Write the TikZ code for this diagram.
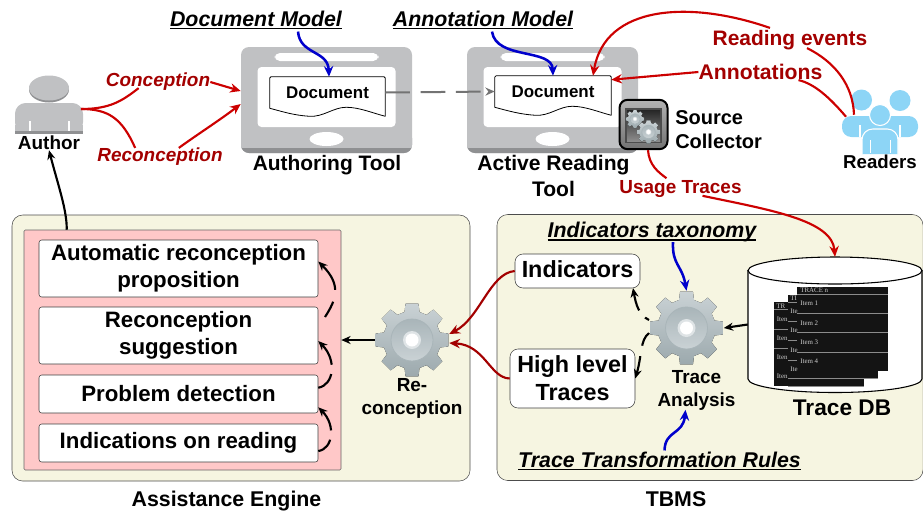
\documentclass[tikz,border=0pt]{standalone}
\usepackage{fontspec}
\setmainfont{Liberation Sans}
\newfontfamily\itemfont{Liberation Serif}
\usetikzlibrary{arrows.meta,calc}

\definecolor{tabletgray}{HTML}{C0C1C3}
\definecolor{tabletedge}{HTML}{8F9092}
\definecolor{panelgreen}{HTML}{F6F5E1}
\definecolor{panelpink}{HTML}{FFC8C8}
\definecolor{darkred}{HTML}{A30000}
\definecolor{linered}{HTML}{CC0000}
\definecolor{modelblue}{HTML}{0000CC}
\definecolor{readerblue}{HTML}{8DD5F6}
\definecolor{gearlight}{HTML}{CAD2D5}
\definecolor{geardark}{HTML}{9CA9AD}
\definecolor{gearring}{HTML}{A9B5B9}

\tikzset{
  lbl/.style={inner sep=0pt,align=center,font=\fontsize{#1}{20}\selectfont\bfseries},
  lblred/.style={lbl=#1,text=darkred},
  lblit/.style={lbl=#1,font=\fontsize{#1}{20}\selectfont\bfseries\itshape},
  lblredit/.style={lblit=#1,text=darkred},
  stepbox/.style={draw=black!75,fill=white,rounded corners=2,minimum width=209.25pt,align=center,inner sep=0pt,font=\fontsize{16.7}{20}\selectfont\bfseries},
  resultbox/.style={draw=black!75,fill=white,rounded corners=6,align=center,inner sep=0pt,font=\fontsize{17.5}{21}\selectfont\bfseries},
  gearspot/.style={circle,inner sep=0pt,minimum size=55.5pt},
  tablet/.style={fill=tabletgray,rounded corners=6,minimum width=128.25pt,minimum height=79.5pt,inner sep=0pt},
  redline/.style={draw=linered,line width=1.6pt},
  redarrow/.style={redline,-{Stealth[length=8pt,width=7pt]}},
  bluearrow/.style={draw=modelblue,line width=1.9pt,-{Stealth[length=8pt,width=7pt]}},
  blackarrow/.style={draw=black,line width=1.6pt,-{Stealth[length=7pt,width=6pt]}},
  itemtext/.style={text=black!20,inner sep=0pt,font=\fontsize{5.2}{5.2}\selectfont\itemfont},
}

% underlined label text
\newcommand{\ulabel}[1]{\setbox0=\hbox{#1}\rlap{\rule[-2.4pt]{\wd0}{1pt}}\box0}

% gear with eight teeth: centre, scale
\newcommand{\gearshape}[2]{
  \begin{scope}[shift={(#1)},scale=#2]
    \fill[top color=gearlight,bottom color=geardark]
      (-15:29) \foreach \a in {0,45,...,315}{ -- (\a-15:29) -- (\a-10:37) -- (\a+10:37) -- (\a+15:29)} -- cycle;
    \draw[gearring,line width=0.6pt,top color=gearring,bottom color=gearlight] (0,0) circle (21);
    \fill[gearlight!60!white] (0,0) circle (9);
    \fill[white] (0,0) circle (6.5);
  \end{scope}
}

% tablet inside: the node name
\newcommand{\tabletshape}[1]{
  \begin{scope}[shift={(#1)}]
    \fill[tabletedge,rounded corners=6] (-85.5,30) rectangle (85.5,53);
    \fill[tabletgray] (-85.5,30) rectangle (85.5,48);
    \fill[white,rounded corners=3] (-69,-33) rectangle (69,27);
    \fill[white,rounded corners=4] (-52,-47) rectangle (52,-39);
    \fill[white] (0,39) ellipse (17 and 7);
  \end{scope}
}

% outline with the wavy lower edge round a document node
\newcommand{\docshape}[1]{
  \draw[line width=0.6pt,rounded corners=1] (#1.south west) -- (#1.north west) -- (#1.north east) -- ($(#1.south east)+(0,8)$);
  \draw[line width=0.6pt] ($(#1.south east)+(0,8)$) .. controls +(-12,-3) and +(13,0) .. ++(-39,-9) .. controls +(-13,0) and +(14,1) .. ++(-37,9) .. controls +(-15,-1) and +(15,4) .. (#1.south west);
}

\begin{document}
\begin{tikzpicture}[x=0.75pt,y=0.75pt,yscale=-1,xscale=1]
\useasboundingbox (0,0) rectangle (923,512);

% Panels
\node[draw=black!70,fill=panelgreen,rounded corners=8,minimum width=343.5pt,minimum height=199.5pt,inner sep=0pt] (assist) at (241,348) {};
\node[draw=black!70,fill=panelgreen,rounded corners=8,minimum width=319.5pt,minimum height=199.5pt,inner sep=0pt] (tbms) at (710,347.5) {};
\node[draw=black!60,fill=panelpink,rounded corners=1,minimum width=237.75pt,minimum height=180pt,inner sep=0pt] (pink) at (182.5,350) {};

% Tablets
\node[tablet] (authoring) at (326.5,100) {};
\tabletshape{authoring}
\node[tablet] (reading) at (552.5,100) {};
\tabletshape{reading}

% Documents
\node[lbl=12.7,minimum width=86.25pt,minimum height=23.25pt] (docA) at (327.5,92.5) {Document};
\docshape{docA}
\node[lbl=12.7,minimum width=87pt,minimum height=23.25pt] (docB) at (553,91.5) {Document};
\docshape{docB}

% Author
\fill[tabletedge] (49,89.5) ellipse (20 and 13);
\fill[tabletgray] (49,88) ellipse (20 and 12.5);
\fill[tabletgray,rounded corners=8] (15,133) -- (15,103) -- (83,103) -- (83,133) -- cycle;
\fill[tabletgray] (15,125) rectangle (83,131);
\fill[white] (28.5,121) rectangle (30.5,132);
\fill[white] (67.5,121) rectangle (69.5,132);
\fill[tabletedge] (15,131) rectangle (83,133.5);
\coordinate (authorfoot) at (81,109);
\node[lbl=14.2] (author) at (49,143) {Author};

% Readers
\node[inner sep=0pt,minimum width=57pt,minimum height=42pt] (crowd) at (880,125) {};
\fill[readerblue] (861.5,100) circle (10.5);
\fill[readerblue] (900,100.5) circle (10.5);
\fill[readerblue,rounded corners=7] (842,137) -- (842,116) -- (918,116) -- (918,137) -- cycle;
\fill[white] (859,125) rectangle (861,137);
\fill[white] (899,125) rectangle (901,137);
\draw[white,line width=0.8pt,fill=readerblue] (880,115) circle (10.5);
\draw[white,line width=0.8pt,fill=readerblue,rounded corners=8] (862,154) -- (862,129) -- (898,129) -- (898,154);
\fill[white] (869.5,140) rectangle (870.5,153);
\fill[white] (889.5,140) rectangle (890.5,153);
\node[lbl=14] (readers) at (880,162) {Readers};

% Source collector
\node[draw=black,line width=1.5pt,rounded corners=6,top color=black!30,bottom color=black!55,minimum width=36pt,minimum height=37pt,inner sep=0pt] (collector) at (643.5,124.5) {};
\fill[black!70] (625,108) rectangle (662,143);
\fill[top color=black!85,bottom color=black!45] (627,110) rectangle (660,141);
\gearshape{635,119}{0.25}
\gearshape{648.5,132}{0.32}
\node[lbl=15,anchor=west,font=\fontsize{15}{18}\selectfont\bfseries,align=left] (source) at (675,130) {Source\\Collector};

% Trace DB
\node[inner sep=0pt,minimum width=130.5pt,minimum height=101.25pt] (tracedb) at (835,324.5) {};
\draw[line width=0.8pt,fill=white] (748,270) -- (748,379) .. controls (748,386.5) and (787,392.5) .. (835,392.5) .. controls (883,392.5) and (922,386.5) .. (922,379) -- (922,270);
\draw[line width=0.8pt,fill=white] (835,270.5) ellipse (87 and 13.5);
\fill[black!92] (774,302) rectangle (864,386);
\fill[black!92] (788,295) rectangle (878,378);
\fill[black!92] (797,287) rectangle (888,371);
\foreach \y in {294,313,332,352}
  \draw[black!45,line width=0.7pt] (797,\y) -- (888,\y);
\foreach \y in {302,321.5,340.5,360}
  \draw[black!45,line width=0.7pt] (788,\y) -- (797,\y);
\foreach \y in {309,329,348}
  \draw[black!45,line width=0.7pt] (774,\y) -- (788,\y);
\draw[black!45,line width=0.7pt] (788,378) -- (878,378);
\draw[black!45,line width=0.7pt] (788,386) -- (864,386);
\node[itemtext,anchor=west] (itn) at (800,290) {TRACE n};
\foreach \y/\t in {303/1,323/2,342/3,361/4}
  \node[itemtext,anchor=west] (it\t) at (800,\y) {Item \t};
\node[itemtext,anchor=west] (tb) at (790,298) {TI};
\foreach \y/\t in {311/a,330.5/b,350/c,369/d}
  \node[itemtext,anchor=west] (ib\t) at (790,\y) {Ite};
\node[itemtext,anchor=west] (ta) at (776,306) {TR};
\foreach \y/\t in {319/a,338/b,357/c,376.5/d}
  \node[itemtext,anchor=west] (ia\t) at (776.5,\y) {Iten};
\node[lbl=17] (dblabel) at (842,408) {Trace DB};

% Gears
\node[gearspot] (recon) at (412,340) {};
\gearshape{412,340}{1}
\node[lbl=14.2,font=\fontsize{14.2}{17.3}\selectfont\bfseries] (reconlabel) at (412,398.5) {Re-\\conception};
\node[gearspot] (analysis) at (686.5,328) {};
\gearshape{686.5,328}{1}
\node[lbl=14.2,font=\fontsize{14.2}{17.3}\selectfont\bfseries] (analysislabel) at (696.5,390.5) {Trace\\Analysis};

% Assistance steps
\node[stepbox,minimum height=42.75pt] (auto) at (178.5,268.5) {Automatic reconception\\proposition};
\node[stepbox,minimum height=42.75pt] (suggest) at (178.5,335.5) {Reconception\\suggestion};
\node[stepbox,minimum height=28.5pt] (problem) at (178.5,394) {\raisebox{1.5pt}{Problem detection}};
\node[stepbox,minimum height=28.5pt] (indic) at (178.5,443) {\raisebox{0.8pt}{Indications on reading}};

% Trace results
\node[resultbox,minimum width=93.75pt,minimum height=25.5pt] (indicators) at (577.5,271) {\raisebox{2.2pt}{Indicators}};
\node[resultbox,minimum width=93.75pt,minimum height=44.25pt] (high) at (572.5,378.5) {High level\\Traces};

% Labels
\node[lblit=16] (docmodel) at (256,20) {\ulabel{Document Model}};
\node[lblit=16] (annmodel) at (483,20) {\ulabel{Annotation Model}};
\node[lblredit=14.2] (conception) at (158,82) {Conception};
\node[lblredit=14.2] (reconception) at (160,157) {Reconception};
\node[lbl=15.7] (authoringlabel) at (327,165) {Authoring Tool};
\node[lbl=15.8,font=\fontsize{15.8}{19.5}\selectfont\bfseries] (readinglabel) at (553.5,176) {Active Reading\\Tool};
\node[lblred=15.7] (events) at (790,40) {Reading events};
\node[lblred=15.9] (annotations) at (760.5,72) {Annotations};
\node[lblred=14.2] (usage) at (680.5,189) {Usage Traces};
\node[lblit=16] (taxonomy) at (652,232) {\ulabel{Indicators taxonomy}};
\node[lblit=16] (rules) at (659.5,461) {\ulabel{Trace Transformation Rules}};
\node[lbl=16] (assistlabel) at (226.5,501) {Assistance Engine};
\node[lbl=16] (tbmslabel) at (676,499) {TBMS};

% Author connectors
\draw[redline] (authorfoot) .. controls (110,109) and (122,101) .. ($(conception.south west)+(33,-3)$);
\draw[redline] (authorfoot) .. controls (108,109) and (122,118) .. ($(reconception.north west)+(38,0)$);
\draw[redarrow] (conception.east) -- ($(authoring.west)+(0,-9)$);
\draw[redarrow] ($(reconception.north east)+(-44,0)$) .. controls (195,136) and (220,120) .. ($(authoring.west)+(0,4)$);

% Model connectors
\draw[bluearrow] ($(docmodel.south)+(42,2)$) .. controls (300,55) and (328,50) .. ($(docA.north)+(1.5,0)$);
\draw[bluearrow] ($(annmodel.south)+(9,2)$) .. controls (496,60) and (552,48) .. ($(docB.north)+(0,0)$);
\draw[draw=black!55,line width=1.5pt,dash pattern=on 18.5pt off 8pt,-{Stealth[length=7pt,width=6pt]}] (docA.east) -- (docB.west);

% Reader connectors
\draw[redline] ($(crowd.north)+(-26,18)$) .. controls (853,85) and (835,62) .. ($(events.south)+(17,-2)$);
\draw[redarrow] ($(events.north)+(-20,-2)$) .. controls (690,0) and (605,5) .. ($(docB.north)+(40,0)$);
\draw[redline] ($(crowd.north)+(-34,20)$) .. controls (830,98) and (815,84) .. ($(annotations.south)+(38,0)$);
\draw[redarrow] (annotations.west) -- ($(docB.north east)+(0,4)$);
\draw[redline] ($(collector.south)+(4.5,0)$) .. controls (649,165) and (658,172) .. ($(usage.north)+(-14,-2)$);
\draw[redarrow] ($(usage.south)+(22,-2)$) .. controls (770,210) and (832,220) .. (tracedb.north);

% Trace connectors
\draw[blackarrow] (tracedb.west) -- (analysis.east);
\draw[bluearrow] ($(taxonomy.south)+(21,0)$) .. controls (672,265) and (682,265) .. (analysis.north);
\draw[bluearrow] ($(rules.north)+(5,-1)$) .. controls (665,430) and (683,435) .. ($(analysislabel.south)+(-11,-1)$);
\draw[blackarrow,dash pattern=on 3.5pt off 7pt on 30pt] (649,320) .. controls (639,315) and (636,305) .. (633,288);
\draw[blackarrow,dash pattern=on 11pt off 8pt on 30pt] (649,333) .. controls (640,340) and (642,355) .. (high.east);

% Outgoing results
\draw[draw=darkred,line width=1.6pt,-{Stealth[length=8pt,width=7pt]}] (indicators.west) .. controls (490,273) and (480,318) .. ($(recon.east)+(0,-6)$);
\draw[draw=darkred,line width=1.6pt,-{Stealth[length=8pt,width=7pt]}] (high.west) .. controls (490,378) and (485,345) .. ($(recon.east)+(0,3)$);
\draw[blackarrow] (recon.west) -- (recon.west -| pink.east);
\draw[blackarrow] ($(pink.north west)+(43,0)$) .. controls (67,210) and (58,185) .. (author.south);

% Steps chain
\draw[blackarrow,dash pattern=on 13pt off 7pt on 40pt] ($(indic.east)+(0,8)$) .. controls (333,449) and (336,425) .. ($(problem.south east)+(0,-6)$);
\draw[blackarrow,dash pattern=on 15pt off 7pt on 40pt] ($(problem.north east)+(0,13)$) .. controls (334,385) and (337,360) .. ($(suggest.east)+(0,5.5)$);
\draw[blackarrow,dash pattern=on 13pt off 9pt on 40pt] (325,317) .. controls (336,300) and (342,285) .. ($(auto.east)+(0,-7)$);

\end{tikzpicture}
\end{document}
